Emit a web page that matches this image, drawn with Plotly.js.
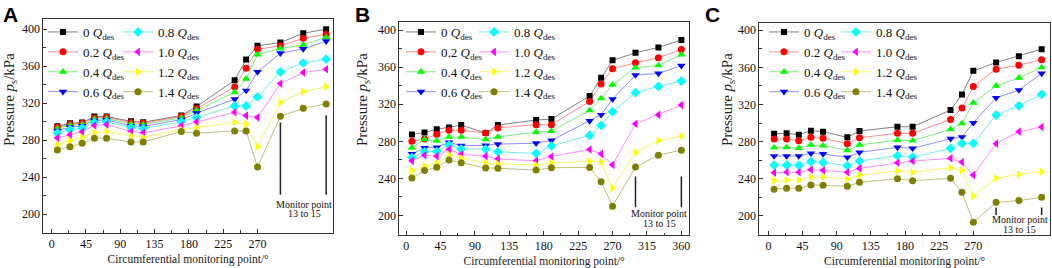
<!DOCTYPE html>
<html>
<head>
<meta charset="utf-8">
<script src="https://cdn.plot.ly/plotly-3.0.1.min.js"></script>
<style>html,body{margin:0;padding:0;background:#fff;}#chart{width:1052px;height:268px;}</style>
</head>
<body>
<div id="chart"></div>
<script>
// ---- data ----
const angles = [7.5, 24, 40, 56, 72, 104, 120, 170, 190, 240, 255, 270, 300, 330, 360];
const flowLabels = ['0', '0.2', '0.4', '0.6', '0.8', '1.0', '1.2', '1.4'];
const xTickVals = [0, 45, 90, 135, 180, 225, 270, 315, 360];
const xTickValsShort = [0, 45, 90, 135, 180, 225, 270];
const yTickVals = [200, 240, 280, 320, 360, 400];

// Panel A
const A_q00 = [295, 298.4, 299.1, 305.6, 305.6, 300.5, 299.4, 306.7, 316.4, 344.8, 367.2, 382, 385.6, 395.6, 400];
const A_q02 = [294, 297.3, 298.4, 304.1, 304.9, 299.1, 298.4, 305.6, 314.2, 337.6, 357.8, 378.3, 382, 390.2, 394.5];
const A_q04 = [292.6, 296.2, 296.9, 302.7, 303.4, 297.6, 296.9, 304.1, 312.1, 331.8, 346.3, 372.6, 379, 383, 391.3];
const A_q06 = [290.4, 294, 295.5, 301.2, 302, 295.5, 294.8, 302.3, 309.2, 324.3, 333.7, 353.8, 374, 378.7, 387];
const A_q08 = [287.6, 291.5, 293, 299, 299.8, 293.7, 292.6, 299.8, 304.5, 317, 317, 326.8, 353.8, 363.5, 367.5];
const A_q10 = [282.5, 286, 289, 296, 296.9, 289.4, 288, 295.5, 299.8, 310.2, 306.6, 304.5, 341.2, 353.1, 356.7];
const A_q12 = [275, 279.5, 283, 288, 289.4, 284.7, 283, 291.2, 293.7, 299.4, 297.3, 273.1, 320.7, 332.5, 338];
const A_q14 = [269.5, 273, 276.7, 282.2, 282.1, 278, 278, 289.4, 287.5, 290, 290, 251.1, 305.9, 314.5, 319.2];

// Panel B
const B_q00 = [287.3, 289.5, 293, 295, 297.5, 289, 297.5, 303, 304, 328.8, 348.6, 367.3, 375.5, 381.3, 389.2];
const B_q02 = [280, 282.5, 287.6, 292, 292, 289, 294.5, 298, 298, 323, 341.7, 358.3, 364.8, 370.1, 379.1];
const B_q04 = [273, 282, 280.4, 284.7, 284.7, 282, 284.7, 290, 291, 313.3, 326.3, 341, 359.4, 361.9, 373.4];
const B_q06 = [266.5, 273, 273.5, 279, 275.3, 275.6, 277, 278, 281, 302, 308.6, 325.5, 351.4, 353.2, 361.5];
const B_q08 = [262.5, 268.7, 269, 276, 271.6, 271.6, 268.7, 267, 275, 286.3, 297.1, 311.9, 332.4, 339.2, 345];
const B_q10 = [259, 265, 264, 271.3, 266, 264, 261, 259, 263.6, 271.2, 266.5, 254.7, 298.9, 308.6, 319.1];
const B_q12 = [248.5, 253, 256.7, 265.8, 262, 256.4, 255.6, 254.5, 256.7, 258.6, 257.9, 229.5, 268, 280.6, 285.6];
const B_q14 = [240.5, 248.5, 252, 260, 257, 251.3, 251, 249, 251.6, 251.8, 236.3, 210.1, 252.2, 265.1, 270.5];

// Panel C
const C_q00 = [288.5, 288.9, 287.5, 291.8, 290.7, 284.6, 291.4, 296, 296, 314, 330.8, 356.2, 365.2, 372, 379.5];
const C_q02 = [282.8, 282.8, 281, 284.6, 283.5, 277.8, 284.2, 288.9, 288.9, 303.9, 316.1, 339.4, 358, 362.3, 368.1];
const C_q04 = [273.5, 273.8, 273.1, 276.4, 275.6, 270.6, 276.4, 281.7, 281, 293.2, 299.6, 321.8, 340.1, 348.7, 359.8];
const C_q06 = [264.5, 264.5, 264.5, 267.4, 266.7, 263.1, 268.5, 273.8, 272.8, 283.1, 284.9, 300.3, 327.2, 335.5, 353.4];
const C_q08 = [254.8, 254.8, 254.5, 258.4, 257.7, 254.1, 259.1, 264.9, 263.4, 272.7, 278.1, 278.1, 308.6, 318.6, 330.8];
const C_q10 = [246.6, 247, 247, 249.8, 249.1, 247, 251.2, 257.3, 259.1, 262, 258, 244, 277.8, 290.7, 295.7];
const C_q12 = [238, 238.4, 238.7, 242, 242, 239.4, 243.7, 248.7, 247, 251.9, 249, 221.5, 240.5, 244.8, 247.7];
const C_q14 = [228.8, 229.7, 229.7, 233.3, 233, 231.9, 236.2, 240.1, 238, 240.5, 225.4, 193.2, 214.7, 216.5, 220];

const panelA = [A_q00, A_q02, A_q04, A_q06, A_q08, A_q10, A_q12, A_q14];
const panelB = [B_q00, B_q02, B_q04, B_q06, B_q08, B_q10, B_q12, B_q14];
const panelC = [C_q00, C_q02, C_q04, C_q06, C_q08, C_q10, C_q12, C_q14];

// ---- styles ----
const markerColors = ['#000000', '#ff0000', '#00ff00', '#0000ff', '#00ffff', '#ff00ff', '#ffff00', '#808000'];
const lineColors = ['rgba(0,0,0,0.5)', 'rgba(255,0,0,0.45)', 'rgba(0,220,0,0.5)', 'rgba(0,0,255,0.45)',
                    'rgba(0,220,220,0.55)', 'rgba(255,0,255,0.45)', 'rgba(240,240,0,0.6)', 'rgba(128,128,0,0.5)'];
const symbols = ['square', 'circle', 'triangle-up', 'triangle-down', 'diamond', 'triangle-left', 'triangle-right', 'circle'];
const sizes = [6, 7, 7.5, 7.5, 7.5, 7.5, 7.5, 7];
const SERIF = 'Liberation Serif, Times New Roman, serif';

const traces = [];
function addPanel(series, xa, ya, legA, legB) {
  series.forEach((vals, i) => {
    traces.push({
      type: 'scatter', mode: 'lines+markers',
      x: angles, y: vals, xaxis: xa, yaxis: ya,
      name: flowLabels[i] + ' <i>Q</i><sub>des</sub>',
      legend: i < 4 ? legA : legB,
      line: {color: lineColors[i], width: 1},
      marker: {color: markerColors[i], symbol: symbols[i], size: sizes[i], line: {width: 0}}
    });
  });
}
addPanel(panelA, 'x', 'y', 'legend', 'legend2');
addPanel(panelB, 'x2', 'y2', 'legend3', 'legend4');
addPanel(panelC, 'x3', 'y3', 'legend5', 'legend6');

function xAxis(domain, range, anchor, short) {
  const tv = short ? xTickValsShort : xTickVals;
  const minorVals = [];
  for (let i = 0; i < tv.length - 1; i++) minorVals.push((tv[i] + tv[i + 1]) / 2);
  return {
    domain: domain, range: range, anchor: anchor,
    tickmode: 'array', tickvals: tv,
    ticks: 'inside', ticklen: 4, tickwidth: 1, tickcolor: '#333',
    minor: {tickmode: 'array', tickvals: minorVals, ticks: 'inside', ticklen: 2.5, tickcolor: '#333'},
    showline: true, mirror: true, linecolor: '#333', linewidth: 1,
    showgrid: false, zeroline: false,
    tickfont: {family: SERIF, size: 12, color: '#111'},
    title: {text: 'Circumferential monitoring point/°', font: {family: SERIF, size: 11.5, color: '#222'}, standoff: 4}
  };
}
function yAxis(domain, range, anchor) {
  return {
    domain: domain, range: range, anchor: anchor,
    tickmode: 'array', tickvals: yTickVals,
    ticks: 'inside', ticklen: 4, tickwidth: 1, tickcolor: '#333',
    minor: {dtick: 20, tick0: 0, ticks: 'inside', ticklen: 2.5, tickcolor: '#333'},
    showline: true, mirror: true, linecolor: '#333', linewidth: 1,
    showgrid: false, zeroline: false,
    tickfont: {family: SERIF, size: 12, color: '#111'}
  };
}
function legendAt(xpx, ypx) {
  return {
    x: xpx / 1052, y: 1 - ypx / 268, xanchor: 'left', yanchor: 'top',
    bgcolor: 'rgba(0,0,0,0)', borderwidth: 0, itemwidth: 30, tracegroupgap: 0,
    font: {family: SERIF, size: 13, color: '#111'}
  };
}

function monitorLines(xa, ya, y0, y1) {
  return [300, 360].map(v => ({type: 'line', xref: xa, yref: ya, x0: v, x1: v, y0: y0, y1: y1,
    line: {color: '#222', width: 1.5}}));
}
function monitorText(xa, ya, yTop, yBot) {
  return [
    {xref: xa, yref: ya, x: 331, y: yTop, text: 'Monitor point', showarrow: false,
     font: {family: SERIF, size: 10, color: '#111'}},
    {xref: xa, yref: ya, x: 331, y: yBot, text: '13 to 15', showarrow: false,
     font: {family: SERIF, size: 10, color: '#111'}}
  ];
}
function panelLetter(letter, xpx) {
  return {xref: 'paper', yref: 'paper', x: xpx / 1052, y: 1 - 1 / 268, xanchor: 'left', yanchor: 'top',
    text: '<b>' + letter + '</b>', showarrow: false,
    font: {family: 'Liberation Sans, Arial, sans-serif', size: 21, color: '#000'}};
}
function yTitle(xpx) {
  return {xref: 'paper', yref: 'paper', x: xpx / 1052, y: 1 - 100 / 268, xanchor: 'center', yanchor: 'middle',
    textangle: -90, text: 'Pressure <i>p</i><sub>s</sub>/kPa', showarrow: false,
    font: {family: SERIF, size: 15, color: '#222'}};
}

const layout = {
  width: 1052, height: 268,
  margin: {l: 0, r: 0, t: 0, b: 0},
  paper_bgcolor: '#fff', plot_bgcolor: '#fff',
  showlegend: true,
  xaxis: xAxis([43.3 / 1052, 333 / 1052], [-11, 369], 'y', true),
  yaxis: yAxis([1 - 232.7 / 268, 1 - 19 / 268], [180, 411], 'x'),
  xaxis2: xAxis([399.3 / 1052, 689 / 1052], [-9, 370], 'y2', false),
  yaxis2: yAxis([1 - 235 / 268, 1 - 21.7 / 268], [179, 409], 'x2'),
  xaxis3: xAxis([759.3 / 1052, 1050 / 1052], [-12, 371], 'y3', true),
  yaxis3: yAxis([1 - 235 / 268, 1 - 22.7 / 268], [179.5, 408], 'x3'),
  legend: legendAt(43, 17),
  legend2: legendAt(118, 17),
  legend3: legendAt(401, 17),
  legend4: legendAt(474, 17),
  legend5: legendAt(764, 17),
  legend6: legendAt(836, 17),
  shapes: [].concat(monitorLines('x', 'y', 221, 299),
                    monitorLines('x2', 'y2', 209, 242), monitorLines('x3', 'y3', 201, 209)),
  annotations: [].concat(
    monitorText('x', 'y', 211, 201),
    monitorText('x2', 'y2', 202, 191.5),
    monitorText('x3', 'y3', 196, 185),
    [panelLetter('A', 1), panelLetter('B', 353), panelLetter('C', 703)],
    [yTitle(10), yTitle(363), yTitle(728)]
  )
};
// the line at 360 in panel A is taller than at 300
layout.shapes[1].y1 = 307;

Plotly.newPlot('chart', traces, layout, {displayModeBar: false, staticPlot: true});
</script>
</body>
</html>
